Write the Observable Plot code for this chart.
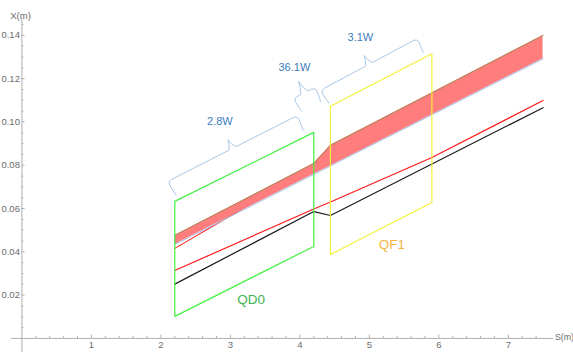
<!DOCTYPE html>
<html>
<head>
<meta charset="utf-8">
<script src="https://cdn.jsdelivr.net/npm/d3@7"></script>
<script src="https://cdn.jsdelivr.net/npm/@observablehq/plot@0.6"></script>
<style>
  html, body { margin: 0; padding: 0; background: #fff; }
</style>
</head>
<body>
<div id="chart"></div>
<script>
// Beam envelope (shaded band) along the line, S in m, X in m
const envS     = [2.2, 4.2, 4.44, 7.5];
const envUpper = [0.0476, 0.0808, 0.0892, 0.1400];
const envLower = [0.0434, 0.0758, 0.0797, 0.1292];

// Trajectories
const redS   = [2.2, 4.2, 4.44, 5.9, 7.5];
const redX   = [0.0314, 0.0598, 0.0630, 0.0836, 0.1099];
const blackS = [2.2, 4.2, 4.44, 7.5];
const blackX = [0.0251, 0.0586, 0.0568, 0.1066];
const ray2S  = [2.2, 3.3];
const ray2X  = [0.0416, 0.0622];

// Quadrupole outlines: entrance/exit S, top and bottom X at each end
const magnets = [
  {name: "QD0", s0: 2.2,  s1: 4.2, top: [0.0633, 0.0952], bottom: [0.0102, 0.0425],
   labelS: 3.3, labelX: 0.0180},
  {name: "QF1", s0: 4.44, s1: 5.9, top: [0.1073, 0.1315], bottom: [0.0388, 0.0628],
   labelS: 5.325, labelX: 0.0433}
];

// Power annotations: brace ends (S, X) and label
const braceLabels = ["2.8W", "36.1W", "3.1W"];
const braceS0 = [2.094, 3.906, 4.295];
const braceX0 = [0.0725, 0.1109, 0.1146];
const braceS1 = [3.964, 4.223, 5.691];
const braceX1 = [0.1030, 0.1160, 0.1386];
const braceLabelS = [2.849, 3.921, 4.871];
const braceLabelX = [0.1000, 0.1253, 0.1391];

// Axes
const xTicks = [1, 2, 3, 4, 5, 6, 7];
const xTickLabels = ["1", "2", "3", "4", "5", "6", "7"];
const yTicks = [0.02, 0.04, 0.06, 0.08, 0.10, 0.12, 0.14];
const yTickLabels = ["0.02", "0.04", "0.06", "0.08", "0.10", "0.12", "0.14"];

const W = 573, H = 355;
const margin = {top: 18, right: 20, bottom: 3, left: 11};
const xDomain = [-0.15, 7.65];
const yDomain = [-0.0065, 0.1478];

const sx = Plot.scale({x: {domain: xDomain, range: [margin.left, W - margin.right]}});
const sy = Plot.scale({y: {domain: yDomain, range: [H - margin.bottom, margin.top]}});

// Minor tick positions between the labelled ticks
const xMinor = d3.range(1, 38).map(i => i / 5).filter(v => Math.abs(v - Math.round(v)) > 1e-9);
const yMinor = d3.range(1, 30).map(i => i * 0.005).filter(v => Math.abs(v / 0.02 - Math.round(v / 0.02)) > 1e-9);

const envelope = envS.map((s, i) => ({s, lo: envLower[i], hi: envUpper[i]}));
const red = redS.map((s, i) => ({s, x: redX[i]}));
const black = blackS.map((s, i) => ({s, x: blackX[i]}));
const ray2 = ray2S.map((s, i) => ({s, x: ray2X[i]}));

const outlines = magnets.flatMap(m => [
  {name: m.name, s: m.s0, x: m.top[0]},
  {name: m.name, s: m.s1, x: m.top[1]},
  {name: m.name, s: m.s1, x: m.bottom[1]},
  {name: m.name, s: m.s0, x: m.bottom[0]},
  {name: m.name, s: m.s0, x: m.top[0]}
]);

// Curly brace built in screen space along the segment, then mapped back to data
function brace(i, hook, tip) {
  const L = [sx.apply(braceS0[i]), sy.apply(braceX0[i])];
  const R = [sx.apply(braceS1[i]), sy.apply(braceX1[i])];
  const dx = R[0] - L[0], dy = R[1] - L[1], len = Math.hypot(dx, dy);
  const u = [dx / len, dy / len], n = [-u[1], u[0]];
  const M = [(L[0] + R[0]) / 2, (L[1] + R[1]) / 2];
  const at = (p, a, c) => [p[0] + u[0] * a + n[0] * c, p[1] + u[1] * a + n[1] * c];
  const pts = [
    at(L, 1.5, hook), at(L, 0.3, 4), at(L, 1.2, 1.2), at(L, 4, 0),
    at(M, -4, 0), at(M, -1.2, -tip * 0.5), at(M, 0, -tip),
    at(M, 1.2, -tip * 0.5), at(M, 4, 0),
    at(R, -4, 0), at(R, -1.2, 1.2), at(R, -0.3, 4), at(R, -1.5, hook)
  ];
  return pts.map(([px, py]) => ({id: i, s: sx.invert(px), x: sy.invert(py)}));
}
const braces = [brace(0, 16, 10), brace(1, 15, 13), brace(2, 15, 10)].flat();

const axisColor = "#b0b0b0";
const labelColor = "#6b6b6b";
const font = "Liberation Sans, Arial, sans-serif";

const chart = Plot.plot({
  width: W,
  height: H,
  marginTop: margin.top,
  marginRight: margin.right,
  marginBottom: margin.bottom,
  marginLeft: margin.left,
  x: {domain: xDomain, axis: null},
  y: {domain: yDomain, axis: null},
  style: {fontFamily: font, background: "#fff"},
  marks: [
    // axes through the origin
    Plot.ruleY([0], {stroke: axisColor, strokeWidth: 1}),
    Plot.ruleX([0], {stroke: axisColor, strokeWidth: 1}),
    Plot.ruleX(xTicks, {x: d => d, y1: 0, y2: 0.0015, stroke: axisColor}),
    Plot.ruleX(xMinor, {x: d => d, y1: 0, y2: 0.0009, stroke: axisColor}),
    Plot.ruleY(yTicks, {y: d => d, x1: 0, x2: 0.045, stroke: axisColor}),
    Plot.ruleY(yMinor, {y: d => d, x1: 0, x2: 0.028, stroke: axisColor}),
    Plot.text(xTicks, {x: d => d, y: 0, dy: 7, text: (d, i) => xTickLabels[i],
      fill: labelColor, fontSize: 9.5}),
    Plot.text(yTicks, {x: 0, y: d => d, dx: -2, text: (d, i) => yTickLabels[i],
      textAnchor: "end", fill: labelColor, fontSize: 9.5}),
    Plot.text(["X(m)"], {frameAnchor: "top-left", dx: 9, dy: -6, textAnchor: "middle",
      fill: labelColor, fontSize: 9.5}),
    Plot.text(["S(m)"], {x: xDomain[1], y: 0, dx: 1.5, dy: -1, textAnchor: "start",
      fill: labelColor, fontSize: 8.8}),

    // secondary ray, partly hidden by the envelope
    Plot.line(ray2, {x: "s", y: "x", stroke: "#ff2020", strokeWidth: 1.1}),
    // envelope band
    Plot.areaY(envelope, {x: "s", y1: "lo", y2: "hi", fill: "#ff7d7d"}),
    Plot.line(envelope, {x: "s", y: "hi", stroke: "#a88a55", strokeWidth: 1}),
    Plot.line(envelope, {x: "s", y: "lo", stroke: "#a3bde8", strokeWidth: 1}),

    // trajectories
    Plot.line(red, {x: "s", y: "x", stroke: "#ff1a1a", strokeWidth: 1.2}),
    Plot.line(black, {x: "s", y: "x", stroke: "#1a1a1a", strokeWidth: 1.2}),

    // magnet outlines and names
    Plot.line(outlines, {x: "s", y: "x", z: "name",
      stroke: d => d.name === "QD0" ? "#44f044" : "#f2f03a", strokeWidth: 1.2}),
    Plot.text(magnets, {x: "labelS", y: "labelX", text: "name",
      fill: d => d.name === "QD0" ? "#3db34f" : "#f5b53f", fontSize: 13.5}),

    // power braces
    Plot.line(braces, {x: "s", y: "x", z: "id", stroke: "#a9c8e6", strokeWidth: 1}),
    Plot.text(braceLabels, {x: (d, i) => braceLabelS[i], y: (d, i) => braceLabelX[i],
      text: d => d, fill: "#3b7cc0", fontSize: 11})
  ]
});

document.getElementById("chart").appendChild(chart);
</script>
</body>
</html>
